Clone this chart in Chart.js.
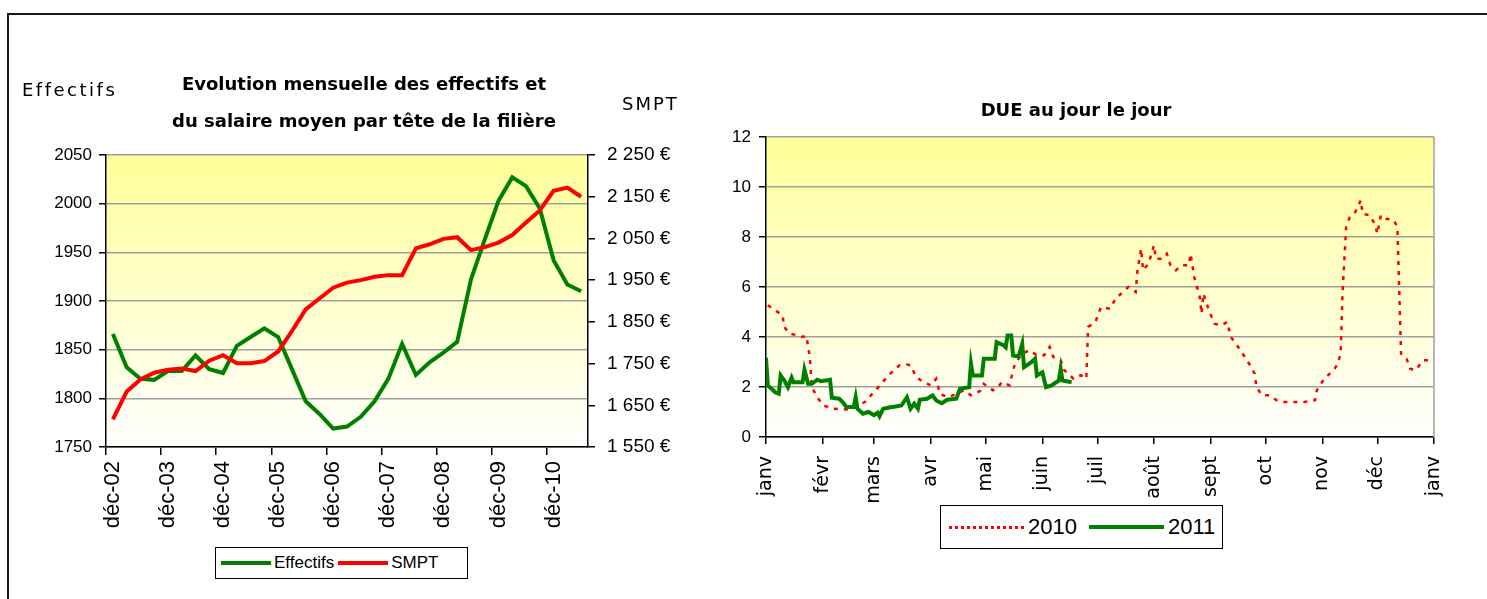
<!DOCTYPE html>
<html lang="fr">
<head>
<meta charset="utf-8">
<title>Effectifs, SMPT et DUE</title>
<script src="https://cdn.jsdelivr.net/npm/chart.js@4.4.1/dist/chart.umd.min.js"></script>
<style>
  html, body { margin: 0; padding: 0; background: #fff; }
  body { width: 1487px; height: 599px; position: relative; overflow: hidden; font-family: 'DejaVu Sans', sans-serif; color: #000; }
  .frame { position: absolute; left: 7px; top: 13px; width: 1490px; height: 600px; border-top: 2px solid #1a1a1a; border-left: 2px solid #1a1a1a; }
  .chart-box { position: absolute; top: 0; height: 599px; }
  #leftBox { left: 0; width: 700px; }
  #rightBox { left: 700px; width: 787px; }
  .txt { position: absolute; white-space: nowrap; line-height: 22px; }
  .title { font-weight: bold; font-size: 18px; text-align: center; width: 420px; }
  .axis-title { font-size: 18px; letter-spacing: 2px; }
  .legend { position: absolute; border: 1px solid #000; background: #fff; display: flex; align-items: center; box-sizing: border-box; font-family: 'Liberation Sans', Arial, sans-serif; }
  .legend .line { display: inline-block; }
</style>
</head>
<body>
<div class="frame"></div>

<div class="chart-box" id="leftBox"><canvas id="leftChart"></canvas></div>
<div class="chart-box" id="rightBox"><canvas id="rightChart"></canvas></div>

<div class="txt axis-title" style="left:22px; top:79px; letter-spacing:2.5px;">Effectifs</div>
<div class="txt axis-title" style="left:622px; top:93px;">SMPT</div>
<div class="txt title" style="left:154px; top:73px;">Evolution mensuelle des effectifs et</div>
<div class="txt title" style="left:154px; top:110px;">du salaire moyen par tête de la filière</div>
<div class="txt title" style="left:866px; top:99px;">DUE au jour le jour</div>

<div class="legend" style="left:215px; top:547px; width:253px; height:32px; font-size:17px;">
  <span class="line" style="margin-left:5px; width:50px; border-top:4px solid #008000;"></span>
  <span style="margin-left:3px;">Effectifs</span>
  <span class="line" style="margin-left:4px; width:50px; border-top:4px solid #ff0000;"></span>
  <span style="margin-left:3px;">SMPT</span>
</div>

<div class="legend" style="left:940px; top:505px; width:283px; height:44px; font-size:22px;">
  <span class="line" style="margin-left:8px; width:75px; border-top:3px dotted #ff0000;"></span>
  <span style="margin-left:4px;">2010</span>
  <span class="line" style="margin-left:12px; width:75px; border-top:4px solid #008000;"></span>
  <span style="margin-left:4px;">2011</span>
</div>

<script>
// Evolution trimestrielle (déc-02 .. juin-11)
const quarters = [
  'déc-02', 'mars-03', 'juin-03', 'sept-03',
  'déc-03', 'mars-04', 'juin-04', 'sept-04',
  'déc-04', 'mars-05', 'juin-05', 'sept-05',
  'déc-05', 'mars-06', 'juin-06', 'sept-06',
  'déc-06', 'mars-07', 'juin-07', 'sept-07',
  'déc-07', 'mars-08', 'juin-08', 'sept-08',
  'déc-08', 'mars-09', 'juin-09', 'sept-09',
  'déc-09', 'mars-10', 'juin-10', 'sept-10',
  'déc-10', 'mars-11', 'juin-11'
];
const effectifs = [
  1866, 1832, 1820, 1819, 1828, 1828, 1844, 1830, 1826, 1854,
  1863, 1872, 1863, 1830, 1797, 1784, 1769, 1771, 1781, 1797,
  1820, 1856, 1824, 1837, 1847, 1858, 1922, 1963, 2003, 2027,
  2018, 1995, 1942, 1917, 1910
];
const smpt = [
  1616, 1683, 1712, 1728, 1735, 1738, 1732, 1757, 1770, 1751,
  1751, 1756, 1779, 1828, 1880, 1906, 1932, 1944, 1950, 1958,
  1962, 1962, 2026, 2036, 2049, 2053, 2022, 2029, 2040, 2058,
  2088, 2117, 2164, 2172, 2150
];
const effectifsTicks = ['1750', '1800', '1850', '1900', '1950', '2000', '2050'];
const smptTicks = ['1 550 €', '1 650 €', '1 750 €', '1 850 €', '1 950 €', '2 050 €', '2 150 €', '2 250 €'];

// DUE au jour le jour (jour de l'année, valeur)
const monthLabels = ['janv', 'févr', 'mars', 'avr', 'mai', 'juin', 'juil', 'août', 'sept', 'oct', 'nov', 'déc', 'janv'];
const monthStarts = [0, 31, 59, 90, 120, 151, 181, 212, 243, 273, 304, 334, 365];
const dueTicks = ['0', '2', '4', '6', '8', '10', '12'];

const days2010 = [
  1, 5, 9, 10, 13, 17, 20, 22, 24, 25, 28, 31, 37, 44, 49, 54, 59, 63, 67, 73,
  77, 79, 82, 86, 90, 93, 95, 99, 101, 104, 108, 112, 117, 119, 124, 126, 129, 133, 136, 140,
  144, 148, 152, 155, 157, 161, 163, 168, 172, 175, 176, 180, 183, 188, 191, 195, 198, 202, 203, 205,
  206, 209, 212, 213, 216, 219, 221, 224, 227, 231, 232, 234, 237, 238, 239, 242, 245, 249, 252, 254,
  258, 261, 264, 267, 268, 271, 275, 279, 283, 289, 294, 300, 301, 305, 310, 312, 314, 315, 317, 319,
  322, 325, 326, 330, 333, 334, 336, 339, 343, 345, 347, 350, 352, 355, 359, 362, 365
];
const due2010 = [
  5.27, 5.07, 4.87, 4.4, 4.13, 4.07, 4.0, 4.05, 3.2, 2.0, 1.6, 1.27, 1.13, 1.1, 1.2, 1.4, 1.8, 2.13, 2.47, 2.87,
  2.9, 2.87, 2.4, 2.2, 2.07, 2.33, 1.73, 1.6, 1.63, 1.73, 1.87, 1.67, 1.84, 2.13, 1.87, 1.93, 2.2, 2.07, 2.93, 3.33,
  3.47, 3.27, 3.27, 3.6, 3.2, 3.07, 2.67, 2.33, 2.47, 2.33, 4.4, 4.6, 5.2, 5.13, 5.53, 5.8, 6.0, 5.8, 6.67, 7.53,
  6.67, 6.93, 7.67, 7.13, 7.13, 7.33, 6.87, 6.67, 6.87, 6.87, 7.33, 6.4, 5.6, 4.93, 5.73, 5.07, 4.53, 4.47, 4.6, 4.0,
  3.6, 3.27, 2.93, 2.53, 2.0, 1.67, 1.67, 1.47, 1.4, 1.4, 1.4, 1.47, 1.87, 2.33, 2.67, 2.87, 3.33, 5.73, 8.4, 8.8,
  9.0, 9.47, 8.93, 8.87, 8.47, 8.13, 8.87, 8.73, 8.67, 8.4, 3.33, 3.13, 2.73, 2.67, 3.07, 3.07, 3.13
];
const days2011 = [
  0, 1, 3, 5, 7, 8, 10, 12, 14, 15, 20, 21, 23, 25, 28, 30, 35, 36, 40, 42,
  44, 48, 49, 50, 53, 56, 59, 61, 62, 64, 68, 70, 74, 77, 79, 81, 83, 84, 88, 91,
  93, 96, 99, 104, 106, 111, 112, 113, 118, 119, 125, 126, 130, 131, 132, 134, 135, 138, 140, 141,
  145, 147, 148, 151, 153, 156, 160, 161, 162, 167
];
const due2011 = [
  3.17, 2.06, 1.93, 1.79, 1.73, 2.46, 2.26, 1.99, 2.37, 2.19, 2.19, 2.69, 2.13, 2.13, 2.29, 2.23, 2.29, 1.57, 1.53, 1.39,
  1.19, 1.21, 1.59, 1.13, 0.93, 1.0, 0.87, 0.97, 0.83, 1.13, 1.19, 1.21, 1.26, 1.59, 1.13, 1.33, 1.13, 1.49, 1.53, 1.66,
  1.46, 1.35, 1.49, 1.53, 1.93, 1.99, 2.93, 2.46, 2.46, 3.13, 3.13, 3.79, 3.66, 3.59, 4.06, 4.06, 3.26, 3.22, 3.72, 2.79,
  2.99, 3.13, 2.46, 2.59, 1.99, 2.06, 2.26, 2.73, 2.26, 2.19
];

const GREEN = '#008000';
const RED = '#ff0000';
const GRID = '#a0a0a0';
const numFont = { family: "'Liberation Sans', Arial, sans-serif", size: 17 };
const euroFont = { family: "'Liberation Sans', Arial, sans-serif", size: 19 };
const comicFont = { family: "'DejaVu Sans', sans-serif", size: 19 };

// fond dégradé jaune -> blanc de la zone de tracé
const plotBackground = {
  id: 'plotBackground',
  beforeDraw(chart) {
    const { ctx, chartArea: a } = chart;
    const g = ctx.createLinearGradient(0, a.top, 0, a.bottom);
    g.addColorStop(0, '#ffff99');
    g.addColorStop(1, '#ffffff');
    ctx.save();
    ctx.fillStyle = g;
    ctx.fillRect(a.left, a.top, a.width, a.height);
    ctx.restore();
  },
  beforeDatasetsDraw(chart, args, opts) {
    if (!opts.rightEdge) return;
    const { ctx, chartArea: a } = chart;
    ctx.save();
    ctx.strokeStyle = GRID;
    ctx.lineWidth = 1.5;
    ctx.beginPath();
    ctx.moveTo(a.right, a.top);
    ctx.lineTo(a.right, a.bottom);
    ctx.stroke();
    ctx.restore();
  }
};

new Chart(document.getElementById('leftChart'), {
  type: 'line',
  data: {
    labels: quarters,
    datasets: [
      { label: 'Effectifs', data: effectifs, yAxisID: 'y', borderColor: GREEN, borderWidth: 4, pointRadius: 0, order: 1 },
      { label: 'SMPT', data: smpt, yAxisID: 'y2', borderColor: RED, borderWidth: 4, pointRadius: 0, order: 0 }
    ]
  },
  options: {
    responsive: true,
    maintainAspectRatio: false,
    animation: false,
    layout: { padding: { top: 155, left: 0, right: 0, bottom: 0 } },
    plugins: { legend: { display: false }, tooltip: { enabled: false }, plotBackground: { rightEdge: false } },
    scales: {
      x: {
        offset: true,
        grid: {
          offset: true,
          drawOnChartArea: false,
          tickLength: 8,
          lineWidth: 1.5,
          tickColor: (c) => c.index % 4 === 0 ? '#000' : 'rgba(0,0,0,0)'
        },
        border: { color: '#000', width: 1.5 },
        ticks: {
          autoSkip: false,
          minRotation: 90,
          maxRotation: 90,
          padding: 6,
          color: '#000',
          font: { family: "'Liberation Sans', Arial, sans-serif", size: 22 },
          callback: (v, i) => i % 4 === 0 ? quarters[i] : ''
        },
        afterFit: (s) => { s.height = 152; }
      },
      y: {
        position: 'left',
        min: 1750,
        max: 2050,
        ticks: { stepSize: 50, padding: 7, color: '#000', font: numFont, callback: (v, i) => effectifsTicks[i] },
        grid: { color: GRID, lineWidth: 1.5, tickColor: '#000', tickLength: 7 },
        border: { color: '#000', width: 1.5 },
        afterFit: (s) => { s.width = 106; }
      },
      y2: {
        position: 'right',
        min: 1550,
        max: 2250,
        ticks: { stepSize: 100, padding: 12, color: '#000', font: euroFont, callback: (v, i) => smptTicks[i] },
        grid: { drawOnChartArea: false, lineWidth: 1.5, tickColor: '#000', tickLength: 7 },
        border: { color: '#000', width: 1.5 },
        afterFit: (s) => { s.width = 112; }
      }
    }
  },
  plugins: [plotBackground]
});

new Chart(document.getElementById('rightChart'), {
  type: 'line',
  data: {
    datasets: [
      {
        label: '2010',
        data: days2010.map((d, i) => ({ x: d, y: due2010[i] })),
        borderColor: RED, borderWidth: 2.5, borderDash: [4, 6], pointRadius: 0, order: 1
      },
      {
        label: '2011',
        data: days2011.map((d, i) => ({ x: d, y: due2011[i] })),
        borderColor: GREEN, borderWidth: 4, pointRadius: 0, order: 0
      }
    ]
  },
  options: {
    responsive: true,
    maintainAspectRatio: false,
    animation: false,
    layout: { padding: { top: 137, left: 0, right: 53, bottom: 0 } },
    plugins: { legend: { display: false }, tooltip: { enabled: false }, plotBackground: { rightEdge: true } },
    scales: {
      x: {
        type: 'linear',
        min: 0,
        max: 365,
        afterBuildTicks: (s) => { s.ticks = monthStarts.map(v => ({ value: v })); },
        grid: { drawOnChartArea: false, lineWidth: 1.5, tickColor: '#000', tickLength: 7 },
        border: { color: '#000', width: 1.5 },
        ticks: {
          autoSkip: false,
          minRotation: 90,
          maxRotation: 90,
          padding: 12,
          color: '#000',
          font: comicFont,
          callback: (v, i) => monthLabels[i]
        },
        afterFit: (s) => { s.height = 162; }
      },
      y: {
        min: 0,
        max: 12,
        ticks: { stepSize: 2, padding: 8, color: '#000', font: numFont, callback: (v, i) => dueTicks[i] },
        grid: { color: GRID, lineWidth: 1.5, tickColor: '#000', tickLength: 7 },
        border: { color: '#000', width: 1.5 },
        afterFit: (s) => { s.width = 66; }
      }
    }
  },
  plugins: [plotBackground]
});
</script>
</body>
</html>
